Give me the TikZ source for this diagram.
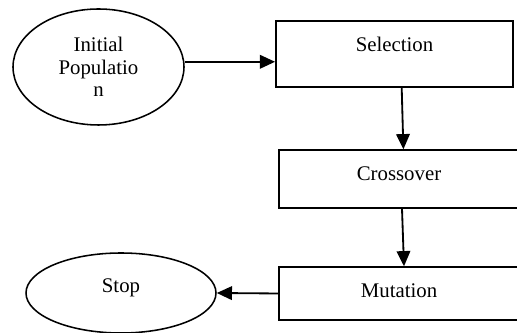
\documentclass[tikz,border=0pt]{standalone}
\usepackage{fontspec}
\setmainfont{Liberation Serif}
\usetikzlibrary{positioning,shapes.geometric,arrows.meta}

\begin{document}
\begin{tikzpicture}[x=0.5cm,y=0.5cm,every node/.style={draw,line width=1pt,font=\fontsize{14.8}{16}\selectfont},
	box/.style={rectangle,minimum width=6cm},oval/.style={ellipse,line width=1.1pt},
	lbl/.style={draw=none,anchor=base,inner sep=0pt},
	arr/.style={-{Triangle[length=0.38cm,width=0.34cm]},line width=1.3pt}]

\useasboundingbox (0,0) rectangle (25.85,16.65);

\node[oval,minimum width=4.275cm,minimum height=2.9cm,align=center,inner sep=0pt](init) at (4.925,13.3) {Initial\\Populatio\\n};
\node[box,line width=1.3pt,minimum width=5.925cm,minimum height=1.65cm](sel) at (19.725,13.95) {};
\node[box,minimum height=1.45cm](cross) at (19.95,7.7) {};
\node[box,minimum height=1.325cm](mut) at (19.95,1.975) {};
\node[oval,minimum width=4.75cm,minimum height=2cm,text height=0.35cm,text depth=0.35cm](stop) at (6.05,2) {Stop};

\foreach \n/\t in {sel/Selection,cross/Crossover,mut/Mutation}{
	\node[lbl](\n-t) at ([yshift=-0.775cm]\n.north) {\t};
}

\draw[arr]([yshift=0.13cm]init.east)--([yshift=0.13cm]init.east -| sel.west);
\draw[arr]([xshift=0.18cm]sel.south)--([xshift=0.11cm]cross.north);
\draw[arr]([xshift=0.075cm]cross.south)--([xshift=0.125cm]mut.north);
\draw[arr](mut.west)--(stop.east);
\end{tikzpicture}
\end{document}
